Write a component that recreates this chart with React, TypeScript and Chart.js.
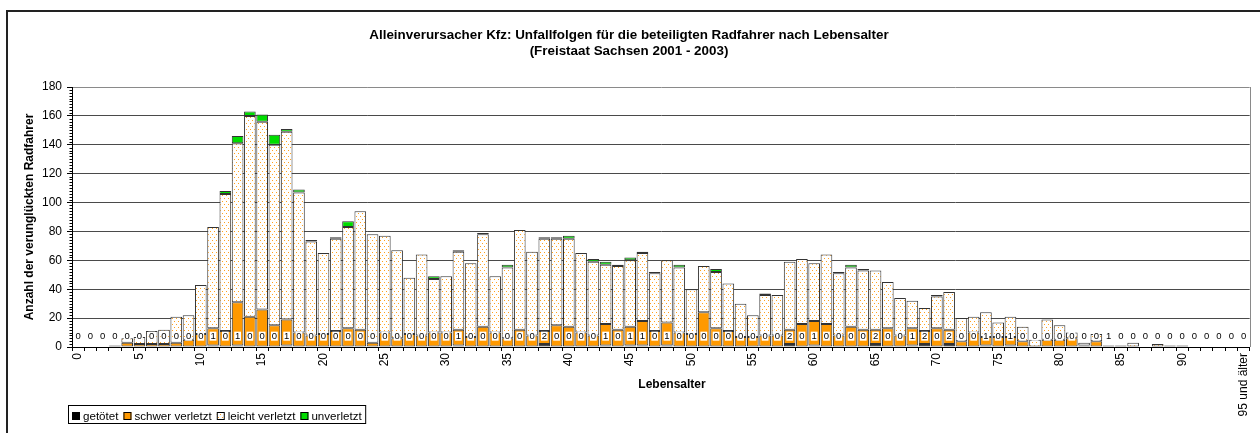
import { useEffect, useRef } from 'react';
import { Chart, registerables } from 'chart.js';

Chart.register(...registerables);

const categories = [
  '0', '1', '2', '3', '4', '5', '6', '7', '8', '9',
  '10', '11', '12', '13', '14', '15', '16', '17', '18', '19',
  '20', '21', '22', '23', '24', '25', '26', '27', '28', '29',
  '30', '31', '32', '33', '34', '35', '36', '37', '38', '39',
  '40', '41', '42', '43', '44', '45', '46', '47', '48', '49',
  '50', '51', '52', '53', '54', '55', '56', '57', '58', '59',
  '60', '61', '62', '63', '64', '65', '66', '67', '68', '69',
  '70', '71', '72', '73', '74', '75', '76', '77', '78', '79',
  '80', '81', '82', '83', '84', '85', '86', '87', '88', '89',
  '90', '91', '92', '93', '94', '95 und älter',
];

const shownTickLabels = ['0', '5', '10', '15', '20', '25', '30', '35', '40', '45', '50', '55', '60', '65', '70', '75', '80', '85', '90', '95 und älter'];

const getoetet = [
  0, 0, 0, 0, 0, 0, 0, 0, 0, 0,
  0, 1, 0, 1, 0, 0, 0, 1, 0, 0,
  0, 0, 0, 0, 0, 0, 0, 0, 0, 0,
  0, 1, 0, 0, 0, 0, 0, 0, 2, 0,
  0, 0, 0, 1, 0, 1, 1, 0, 1, 0,
  0, 0, 0, 0, 0, 0, 0, 0, 2, 0,
  1, 0, 0, 0, 0, 2, 0, 0, 1, 2,
  0, 2, 0, 0, 1, 0, 1, 0, 0, 0,
  0, 0, 0, 0, 1, 0, 0, 0, 0, 0,
  0, 0, 0, 0, 0, 0,
];

const schwerVerletzt = [
  0, 0, 0, 1, 3, 2, 2, 2, 3, 5,
  9, 12, 11, 30, 21, 26, 15, 18, 10, 8,
  9, 11, 13, 12, 3, 10, 6, 9, 8, 10,
  10, 11, 7, 14, 10, 6, 12, 8, 9, 15,
  14, 10, 8, 15, 12, 13, 17, 11, 16, 10,
  9, 24, 13, 11, 7, 7, 8, 8, 10, 16,
  17, 16, 8, 14, 12, 10, 13, 8, 12, 9,
  13, 10, 4, 10, 6, 7, 6, 4, 0, 5,
  5, 6, 1, 4, 0, 1, 0, 0, 0, 1,
  1, 0, 0, 0, 0, 0,
];

const leichtVerletzt = [
  0, 0, 0, 0, 3, 5, 9, 10, 18, 17,
  34, 70, 95, 110, 139, 130, 125, 130, 97, 65,
  56, 64, 70, 82, 75, 67, 61, 39, 56, 37,
  39, 54, 51, 64, 39, 49, 69, 58, 64, 60,
  61, 55, 51, 41, 44, 46, 47, 40, 43, 45,
  31, 32, 39, 33, 23, 15, 28, 28, 47, 45,
  40, 48, 43, 41, 41, 41, 32, 26, 19, 16,
  22, 26, 16, 11, 17, 10, 14, 10, 5, 14,
  10, 4, 2, 5, 0, 0, 3, 0, 2, 0,
  0, 0, 0, 0, 0, 0,
];

const unverletzt = [
  0, 0, 0, 0, 0, 0, 0, 0, 0, 0,
  0, 0, 2, 5, 3, 5, 7, 2, 2, 1,
  0, 1, 4, 0, 0, 0, 0, 0, 0, 2,
  0, 1, 0, 1, 0, 2, 0, 0, 1, 1,
  2, 0, 2, 2, 1, 2, 1, 1, 0, 2,
  0, 0, 2, 0, 0, 0, 1, 0, 0, 0,
  0, 0, 1, 2, 1, 0, 0, 0, 0, 0,
  1, 0, 0, 0, 0, 0, 0, 0, 0, 0,
  0, 0, 0, 0, 0, 0, 0, 0, 0, 0,
  0, 0, 0, 0, 0, 0,
];

const seriesNames = ['getötet', 'schwer verletzt', 'leicht verletzt', 'unverletzt'];
const titleLines = ['Alleinverursacher Kfz: Unfallfolgen für die beteiligten Radfahrer nach Lebensalter', '(Freistaat Sachsen 2001 - 2003)'];
const yTitle = 'Anzahl der verunglückten Radfahrer';
const xTitle = 'Lebensalter';
const yMax = 180;
const yStep = 20;
const yMinorStep = 2;

const FONT = '"Liberation Sans", Arial, sans-serif';
const ORANGE = '#FF9900';
const GREEN = '#00DD00';
const EDGE = '#333333';

export default function App() {
  const canvasRef = useRef<HTMLCanvasElement | null>(null);

  useEffect(() => {
    const canvas = canvasRef.current;
    if (!canvas) return;
    const ctx0 = canvas.getContext('2d')!;

    const tile = document.createElement('canvas');
    tile.width = 4;
    tile.height = 6;
    const tg = tile.getContext('2d')!;
    tg.fillStyle = '#ffffff';
    tg.fillRect(0, 0, 4, 6);
    tg.fillStyle = '#FFA11F';
    tg.fillRect(0, 0, 1, 1);
    tg.fillRect(2, 3, 1, 1);
    const dots = ctx0.createPattern(tile, 'repeat')!;

    const fills: any[] = ['#000000', ORANGE, dots, GREEN];

    const decor = {
      id: 'decor',
      beforeDraw(chart: any) {
        const c = chart.ctx;
        c.save();
        c.fillStyle = '#ffffff';
        c.fillRect(0, 0, chart.width, chart.height);
        c.strokeStyle = '#222';
        c.lineWidth = 2;
        c.beginPath();
        c.moveTo(7, chart.height);
        c.lineTo(7, 11);
        c.lineTo(chart.width, 11);
        c.stroke();
        c.restore();
      },
      afterDatasetsDraw(chart: any) {
        const c = chart.ctx;
        const xs = chart.scales.x;
        const ys = chart.scales.y;
        const ca = chart.chartArea;
        c.save();
        c.strokeStyle = '#8a8a8a';
        c.lineWidth = 1;
        c.beginPath();
        c.moveTo(Math.round(ca.right) + 0.5, ca.top);
        c.lineTo(Math.round(ca.right) + 0.5, ca.bottom);
        c.stroke();
        c.strokeStyle = '#000';
        c.beginPath();
        for (let v = 0; v <= yMax; v += yMinorStep) {
          if (v % yStep === 0) continue;
          const y = Math.round(ys.getPixelForValue(v)) + 0.5;
          c.moveTo(ca.left - 2.5, y);
          c.lineTo(ca.left, y);
        }
        c.stroke();
        c.font = `9.5px ${FONT}`;
        c.textAlign = 'center';
        c.textBaseline = 'middle';
        const ly = ys.getPixelForValue(7.5);
        getoetet.forEach((v, i) => {
          const x = xs.getPixelForValue(i);
          const t = String(v);
          const w = c.measureText(t).width + 1.5;
          c.fillStyle = '#ffffff';
          c.fillRect(x - w / 2, ly - 4.5, w, 9);
          c.fillStyle = '#000';
          c.fillText(t, x, ly + 0.5);
        });
        c.restore();
      },
      afterDraw(chart: any) {
        const c = chart.ctx;
        const ca = chart.chartArea;
        c.save();
        c.fillStyle = '#000';
        c.textAlign = 'center';
        c.textBaseline = 'middle';
        c.font = `bold 13.4px ${FONT}`;
        c.fillText(titleLines[0], 629, 35.5);
        c.fillText(titleLines[1], 629, 51.5);
        c.font = `bold 12px ${FONT}`;
        c.fillText(xTitle, 672, 385);
        c.save();
        c.translate(30, (ca.top + ca.bottom) / 2);
        c.rotate(-Math.PI / 2);
        c.fillText(yTitle, 0, 0);
        c.restore();
        c.font = `11.6px ${FONT}`;
        c.textAlign = 'left';
        let x = 72;
        const boxY = 412;
        seriesNames.forEach((name, i) => {
          c.fillStyle = fills[i];
          c.fillRect(x, boxY, 8, 8);
          c.strokeStyle = '#000';
          c.lineWidth = 1;
          c.strokeRect(x + 0.5, boxY + 0.5, 7, 7);
          c.fillStyle = '#000';
          c.fillText(name, x + 11, boxY + 4.5);
          x = x + 11 + c.measureText(name).width + 5;
        });
        c.strokeStyle = '#000';
        c.lineWidth = 1;
        c.strokeRect(68.5, 405.5, x - 5 + 4 - 68.5, 18);
        c.restore();
      },
    };

    const mk = (i: number, data: number[]) => ({
      label: seriesNames[i],
      data,
      backgroundColor: fills[i],
      borderColor: EDGE,
      borderWidth: 1,
      borderSkipped: false,
      barPercentage: 0.95,
      categoryPercentage: 1,
    });

    const chart = new Chart(canvas, {
      type: 'bar',
      data: {
        labels: categories,
        datasets: [
          mk(0, getoetet),
          mk(1, schwerVerletzt),
          mk(2, leichtVerletzt),
          mk(3, unverletzt),
        ],
      },
      options: {
        animation: false,
        responsive: false,
        devicePixelRatio: 1,
        layout: { padding: { top: 87, left: 0, right: 10, bottom: 0 } },
        plugins: {
          legend: { display: false },
          title: { display: false },
          tooltip: { enabled: false },
        },
        scales: {
          x: {
            stacked: true,
            offset: true,
            afterFit: (s: any) => { s.height = 86; },
            grid: {
              display: true,
              offset: true,
              drawOnChartArea: false,
              drawTicks: true,
              tickLength: 4,
              color: '#000',
            },
            border: { display: true, color: '#000', width: 1 },
            ticks: {
              autoSkip: false,
              minRotation: 90,
              maxRotation: 90,
              padding: 2,
              color: '#000',
              font: { family: FONT, size: 12 },
              callback: (_v: any, idx: number) => (shownTickLabels.includes(categories[idx]) ? categories[idx] : ''),
            },
          },
          y: {
            stacked: true,
            min: 0,
            max: yMax,
            afterFit: (s: any) => { s.width = 72; },
            grid: {
              color: (c: any) => (c.tick && c.tick.value === yMax ? '#8a8a8a' : '#4a4a4a'),
              tickColor: '#000',
              tickLength: 5,
              lineWidth: 1,
            },
            border: { display: true, color: '#000', width: 1 },
            ticks: {
              stepSize: yStep,
              padding: 5,
              color: '#000',
              font: { family: FONT, size: 12 },
            },
          },
        },
      },
      plugins: [decor],
    } as any);

    return () => chart.destroy();
  }, []);

  return (
    <div style={{ position: 'absolute', left: 0, top: 0, width: 1260, height: 433 }}>
      <canvas ref={canvasRef} width={1260} height={433} style={{ display: 'block', width: 1260, height: 433 }} />
    </div>
  );
}
